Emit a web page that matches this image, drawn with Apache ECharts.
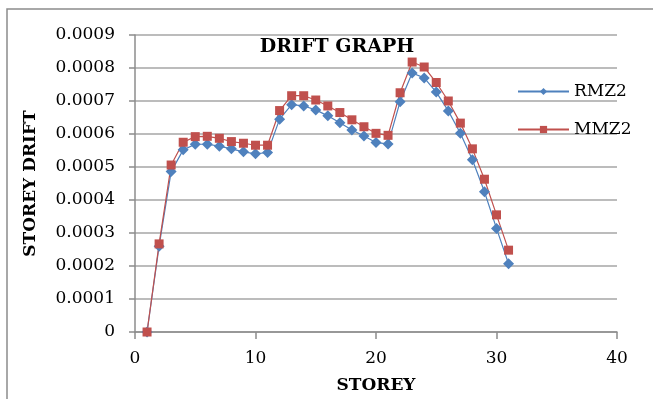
<!DOCTYPE html>
<html>
<head>
<meta charset="utf-8">
<script src="https://cdn.jsdelivr.net/npm/echarts@6/dist/echarts.min.js"></script>
<style>
  html, body { margin: 0; padding: 0; background: #fff; }
  #chart { width: 653px; height: 399px; }
</style>
</head>
<body>
<div id="chart"></div>
<script>
// storey numbers
const storeys = [1, 2, 3, 4, 5, 6, 7, 8, 9, 10, 11, 12, 13, 14, 15, 16, 17, 18, 19, 20, 21, 22, 23, 24, 25, 26, 27, 28, 29, 30, 31];
// storey drift values
const rmz2 = [0, 0.000260, 0.000486, 0.000552, 0.000569, 0.000569, 0.000563, 0.000555, 0.000546, 0.000540, 0.000544,
  0.000645, 0.000689, 0.000685, 0.000673, 0.000655, 0.000634, 0.000612, 0.000594, 0.000574, 0.000570,
  0.000698, 0.000785, 0.000770, 0.000727, 0.000670, 0.000602, 0.000522, 0.000425, 0.000314, 0.000207];
const mmz2 = [0, 0.000267, 0.000506, 0.000575, 0.000592, 0.000593, 0.000587, 0.000577, 0.000572, 0.000566, 0.000566,
  0.000671, 0.000716, 0.000716, 0.000703, 0.000685, 0.000665, 0.000643, 0.000622, 0.000602, 0.000596,
  0.000725, 0.000818, 0.000803, 0.000756, 0.000700, 0.000633, 0.000555, 0.000463, 0.000355, 0.000248];
const seriesNames = ["RMZ2", "MMZ2"];

const font = "DejaVu Serif";
const chart = echarts.init(document.getElementById("chart"));

const pairs = (ys) => storeys.map((s, i) => [s, ys[i]]);

chart.setOption({
  animation: false,
  backgroundColor: "#fff",
  title: {
    text: "DRIFT GRAPH",
    left: 332,
    top: 33,
    textAlign: "center",
    textStyle: { fontFamily: font, fontWeight: "bold", fontSize: 19, color: "#000" },
  },
  graphic: [
    {
      type: "rect",
      shape: { x: 7, y: 9, width: 660, height: 410 },
      style: { fill: "none", stroke: "#8c8c8c", lineWidth: 1.5 },
      silent: true,
    },
  ],
  legend: {
    orient: "vertical",
    left: 512,
    top: 78,
    itemWidth: 51,
    itemHeight: 9,
    itemGap: 21,
    textStyle: { fontFamily: font, fontSize: 17, color: "#000" },
    data: seriesNames,
  },
  grid: { left: 135, right: 36, top: 35, bottom: 67 },
  xAxis: {
    type: "value",
    min: 0,
    max: 40,
    interval: 10,
    name: "STOREY",
    nameLocation: "middle",
    nameGap: 45,
    nameTextStyle: { fontFamily: font, fontWeight: "bold", fontSize: 17, color: "#000" },
    axisLine: { show: true, lineStyle: { color: "#8c8c8c", width: 1.5 } },
    axisTick: { show: true, length: 7, lineStyle: { color: "#8c8c8c", width: 1.5 } },
    axisLabel: { fontFamily: font, fontSize: 17, color: "#000", margin: 18 },
    splitLine: { show: false },
  },
  yAxis: {
    type: "value",
    min: 0,
    max: 0.0009,
    interval: 0.0001,
    name: "STOREY DRIFT",
    nameLocation: "middle",
    nameGap: 96,
    nameRotate: 90,
    nameTextStyle: { fontFamily: font, fontWeight: "bold", fontSize: 17, color: "#000" },
    axisLine: { show: true, lineStyle: { color: "#8c8c8c", width: 1.5 } },
    axisTick: { show: true, length: 6, lineStyle: { color: "#8c8c8c", width: 1.5 } },
    axisLabel: {
      fontFamily: font,
      fontSize: 17,
      color: "#000",
      margin: 20,
      formatter: (v) => (v === 0 ? "0" : v.toFixed(4)),
    },
    splitLine: { show: true, lineStyle: { color: "#a6a6a6", width: 1.5 } },
  },
  series: [
    {
      name: seriesNames[0],
      type: "line",
      data: pairs(rmz2),
      symbol: "diamond",
      symbolSize: 11,
      lineStyle: { color: "#4f81bd", width: 1.2 },
      itemStyle: { color: "#4f81bd" },
    },
    {
      name: seriesNames[1],
      type: "line",
      data: pairs(mmz2),
      symbol: "rect",
      symbolSize: 9,
      lineStyle: { color: "#c0504d", width: 1.2 },
      itemStyle: { color: "#c0504d" },
    },
  ],
});
</script>
</body>
</html>
